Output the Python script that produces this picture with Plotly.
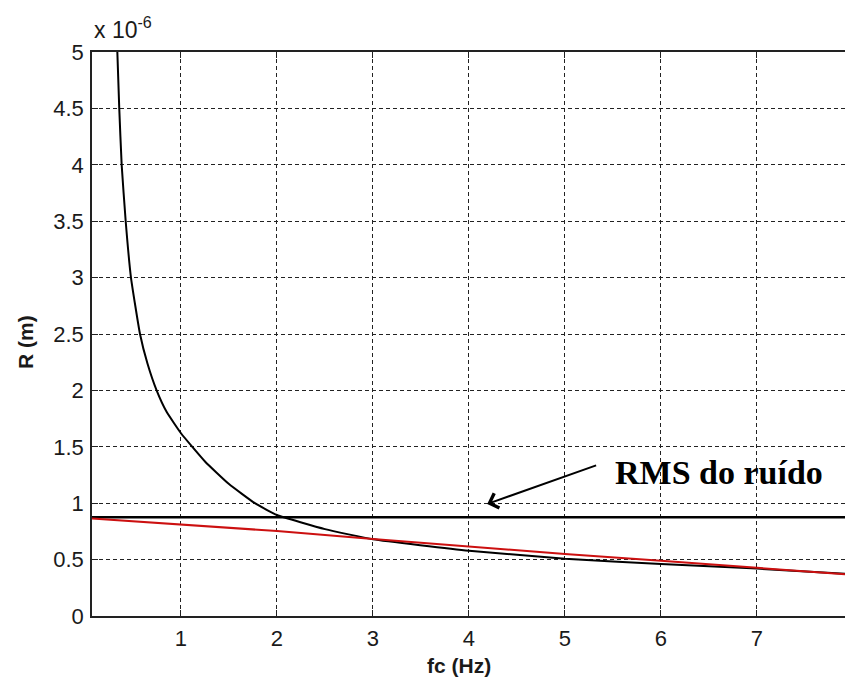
import plotly.graph_objects as go

# Data (R in units of 1e-6 m)
fc_curve = [0.337, 0.357, 0.382, 0.424, 0.479, 0.573, 0.65, 0.746, 0.85, 1.0, 1.25, 1.5, 1.77, 2.0, 2.5, 3.0, 4.0, 5.0, 6.0, 7.0, 7.92]
r_curve = [5.0, 4.5, 4.0, 3.5, 3.0, 2.5, 2.24, 2.0, 1.81, 1.62, 1.37, 1.17, 1.0, 0.895, 0.77, 0.68, 0.579, 0.508, 0.461, 0.42, 0.375]

fc_red = [0.073, 1.0, 2.0, 3.0, 4.0, 5.0, 6.0, 7.0, 7.917]
r_red = [0.865, 0.81, 0.753, 0.683, 0.614, 0.55, 0.49, 0.425, 0.37]

rms_level = 0.875
x_range = [0.073, 7.917]
y_range = [0, 5]
x_ticks = [1, 2, 3, 4, 5, 6, 7]
y_ticks = [0, 0.5, 1, 1.5, 2, 2.5, 3, 3.5, 4, 4.5, 5]
y_tick_text = ["0", "0.5", "1", "1.5", "2", "2.5", "3", "3.5", "4", "4.5", "5"]

label_text = "RMS do ruído"
label_pos = (5.5, 1.27)
arrow_head = (4.19, 0.993)
arrow_tail = (5.34, 1.34)

fig = go.Figure()
fig.add_trace(go.Scatter(x=fc_curve, y=r_curve, mode="lines",
                         line=dict(color="black", width=2, shape="spline", smoothing=0.4),
                         showlegend=False, hoverinfo="skip"))
fig.add_trace(go.Scatter(x=x_range, y=[rms_level, rms_level], mode="lines",
                         line=dict(color="black", width=2.5),
                         showlegend=False, hoverinfo="skip"))
fig.add_trace(go.Scatter(x=fc_red, y=r_red, mode="lines",
                         line=dict(color="#cc1010", width=2),
                         showlegend=False, hoverinfo="skip"))

sans = "Liberation Sans, Arial, sans-serif"
tick_font = dict(family=sans, size=22, color="#1a1a1a")
fig.update_layout(
    width=845, height=684,
    margin=dict(l=92, r=0, t=52, b=68),
    paper_bgcolor="white", plot_bgcolor="white",
    xaxis=dict(range=x_range, tickvals=x_ticks, ticks="inside", ticklen=6,
               tickcolor="#222", showline=True, linecolor="#222", linewidth=1.5,
               mirror="ticks", showgrid=True, gridcolor="#222", gridwidth=1,
               griddash="4px,3px", zeroline=False, tickfont=tick_font,
               ticklabelstandoff=2),
    yaxis=dict(range=y_range, tickvals=y_ticks, ticktext=y_tick_text, ticks="inside",
               ticklen=6, tickcolor="#222", showline=True, linecolor="#222",
               linewidth=1.5, showgrid=True, gridcolor="#222", gridwidth=1,
               griddash="4px,3px", zeroline=False, tickfont=tick_font,
               ticklabelstandoff=2),
    annotations=[
        dict(text="<b>fc (Hz)</b>", xref="paper", yref="paper", x=0.487,
             y=0, yshift=-49, showarrow=False, xanchor="center", yanchor="middle",
             font=dict(family=sans, size=21, color="#1a1a1a")),
        dict(text="<b>R (m)</b>", xref="paper", yref="paper", x=-0.0876,
             y=0.486, showarrow=False, xanchor="center", yanchor="middle", textangle=-90,
             font=dict(family=sans, size=21, color="#1a1a1a")),
        dict(text="x 10<sup>-6</sup>", xref="paper", yref="paper", x=0, y=1,
             yshift=7, showarrow=False, xanchor="left", yanchor="bottom",
             font=dict(family=sans, size=23, color="#1a1a1a")),
        dict(text="<b>" + label_text + "</b>", x=label_pos[0], y=label_pos[1],
             xref="x", yref="y", showarrow=False, xanchor="left", yanchor="middle",
             font=dict(family="Liberation Serif, Times New Roman, serif", size=34, color="black")),
        dict(text="", x=arrow_head[0], y=arrow_head[1], ax=arrow_tail[0], ay=arrow_tail[1],
             xref="x", yref="y", axref="x", ayref="y", showarrow=True,
             arrowhead=4, arrowsize=1.5, arrowwidth=2, arrowcolor="black", standoff=0),
    ],
)

fig.write_html("out.html")
